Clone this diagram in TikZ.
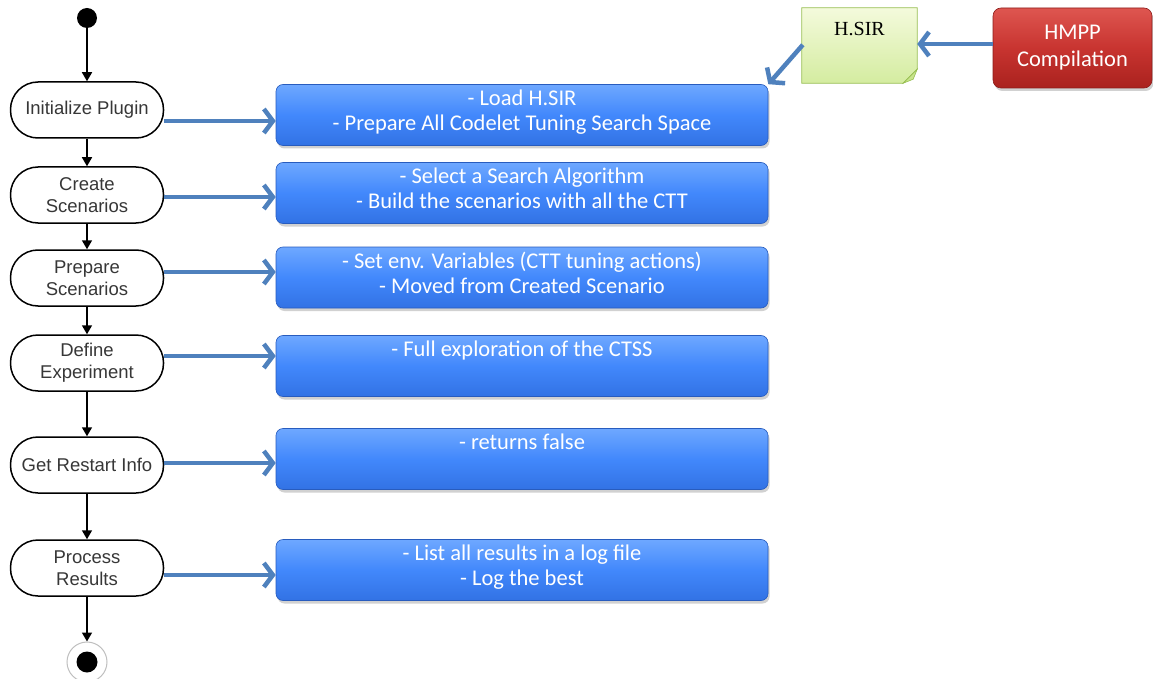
\documentclass[tikz,border=0pt]{standalone}
\usepackage{fontspec}
\setmainfont{Liberation Sans}
\newfontfamily\calibrifont{Carlito}
\newfontfamily\serifnote{Liberation Serif}
\usetikzlibrary{arrows.meta,shadows,calc}

\definecolor{arrowblue}{RGB}{79,129,189}
\definecolor{boxtop}{RGB}{110,168,255}
\definecolor{boxmid}{RGB}{66,136,252}
\definecolor{boxbot}{RGB}{50,114,228}
\definecolor{boxedge}{RGB}{40,92,190}
\definecolor{notetop}{RGB}{244,250,220}
\definecolor{notebot}{RGB}{212,236,160}
\definecolor{noteedge}{RGB}{150,190,80}
\definecolor{notefold}{RGB}{200,228,140}
\definecolor{redtop}{RGB}{222,86,80}
\definecolor{redmid}{RGB}{200,52,48}
\definecolor{redbot}{RGB}{170,34,30}
\definecolor{rededge}{RGB}{140,28,26}
\definecolor{pilltext}{RGB}{55,55,55}

\begin{document}
\begin{tikzpicture}[x=1pt,y=-1pt,
  pill/.style={draw=black, line width=1.5pt, rounded corners=27.5pt,
    minimum width=153pt, minimum height=56pt, inner sep=0pt,
    fill=white, text=pilltext, align=center,
    font=\fontsize{18.5}{22}\selectfont},
  flow/.style={line width=1.5pt, -{Triangle[length=9pt,width=10pt]}},
  task/.style={rounded corners=7pt, minimum width=492pt, minimum height=61pt,
    draw=boxedge, line width=0.6pt,
    top color=boxtop, bottom color=boxbot, middle color=boxmid,
    drop shadow={shadow xshift=1.5pt, shadow yshift=-3pt, fill=black!40, opacity=0.45}},
  tasktext/.style={text=white, align=center, inner sep=0pt,
    font=\calibrifont\fontsize{22.5}{25}\selectfont},
  link/.style={draw=arrowblue, line width=4.5pt,
    -{Straight Barb[length=9pt,width=24pt]}},
]
\useasboundingbox (0,0) rectangle (1153,679);

% start and end markers
\node[circle, fill=black, minimum size=20pt, inner sep=0pt] (start) at (87,18) {};
\node[circle, draw=black!25, line width=1pt, fill=white, minimum size=40pt, inner sep=0pt] (end) at (87,662) {};
\node[circle, fill=black, minimum size=21pt, inner sep=0pt] (endcore) at (end) {};

% activity steps
\node[pill] (p1) at (87,110) {Initialize Plugin};
\node[pill] (p2) at (87,195) {Create\\Scenarios};
\node[pill] (p3) at (87,278) {Prepare\\Scenarios};
\node[pill] (p4) at (87,363) {Define\\Experiment};
\node[pill] (p5) at (87,465) {Get Restart Info};
\node[pill] (p6) at (87,568) {Process\\Results};

% control flow
\draw[flow] (start) -- (p1);
\draw[flow] (p1) -- (p2);
\draw[flow] (p2) -- (p3);
\draw[flow] (p3) -- (p4);
\draw[flow] (p4) -- (p5);
\draw[flow] (p5) -- (p6);
\draw[flow] (p6) -- (end);

% step descriptions
\node[task] (b1) at (522,115) {};
\node[task] (b2) at (522,193) {};
\node[task] (b3) at (522,277.5) {};
\node[task] (b4) at (522,366) {};
\node[task] (b5) at (522,459) {};
\node[task] (b6) at (522,570) {};

\node[tasktext, anchor=north] (b1t) at ([yshift=-5pt]b1.north) {- Load H.SIR\\- Prepare All Codelet Tuning Search Space};
\node[tasktext, anchor=north] (b2t) at ([yshift=-5pt]b2.north) {- Select a Search Algorithm\\- Build the scenarios with all the CTT};
\node[tasktext, anchor=north] (b3t) at ([yshift=-5pt]b3.north) {- Set env. Variables (CTT tuning actions)\\- Moved from Created Scenario};
\node[tasktext, anchor=north] (b4t) at ([yshift=-5pt]b4.north) {- Full exploration of the CTSS};
\node[tasktext, anchor=north] (b5t) at ([yshift=-5pt]b5.north) {- returns false};
\node[tasktext, anchor=north] (b6t) at ([yshift=-5pt]b6.north) {- List all results in a log file\\- Log the best};

% step to description links
\draw[link] ([yshift=-11pt]p1.east) -- ([yshift=-11pt]p1.east -| b1.west);
\draw[link] ([yshift=-2pt]p2.east) -- ([yshift=-2pt]p2.east -| b2.west);
\draw[link] ([yshift=6pt]p3.east) -- ([yshift=6pt]p3.east -| b3.west);
\draw[link] ([yshift=7pt]p4.east) -- ([yshift=7pt]p4.east -| b4.west);
\draw[link] ([yshift=2pt]p5.east) -- ([yshift=2pt]p5.east -| b5.west);
\draw[link] ([yshift=-7pt]p6.east) -- ([yshift=-7pt]p6.east -| b6.west);

% intermediate representation note
\node[minimum width=115pt, minimum height=75pt, inner sep=0pt] (hsir) at (859.5,45.5) {};
\shade[top color=notetop, bottom color=notebot, draw=noteedge, line width=0.8pt]
  (hsir.north west) -- (hsir.north east) -- ([yshift=14pt]hsir.south east)
  -- ([xshift=-14pt]hsir.south east) -- (hsir.south west) -- cycle;
\filldraw[fill=notefold, draw=noteedge, line width=0.6pt]
  ([yshift=14pt]hsir.south east) -- ([xshift=-14pt]hsir.south east)
  -- ([xshift=-4pt,yshift=4pt]hsir.south east) -- cycle;
\node[anchor=north, inner sep=0pt, font=\serifnote\fontsize{20}{24}\selectfont]
  (hsirt) at ([yshift=-14pt]hsir.north) {H.SIR};

% compiler box
\node[rounded corners=8pt, minimum width=159pt, minimum height=80pt,
  draw=rededge, line width=0.6pt,
  top color=redtop, bottom color=redbot, middle color=redmid,
  drop shadow={shadow xshift=1.5pt, shadow yshift=-3pt, fill=black!40, opacity=0.45},
  text=white, align=center, inner sep=0pt,
  font=\calibrifont\fontsize{22.5}{27}\selectfont] (hmpp) at (1072.5,48) {HMPP\\Compilation};

% compilation output flow
\draw[link] (hmpp.west |- 0,44) -- (hsir.east |- 0,44);
\draw[link] ([xshift=1pt,yshift=-37pt]hsir.north west) -- (b1.north east);
\end{tikzpicture}
\end{document}
